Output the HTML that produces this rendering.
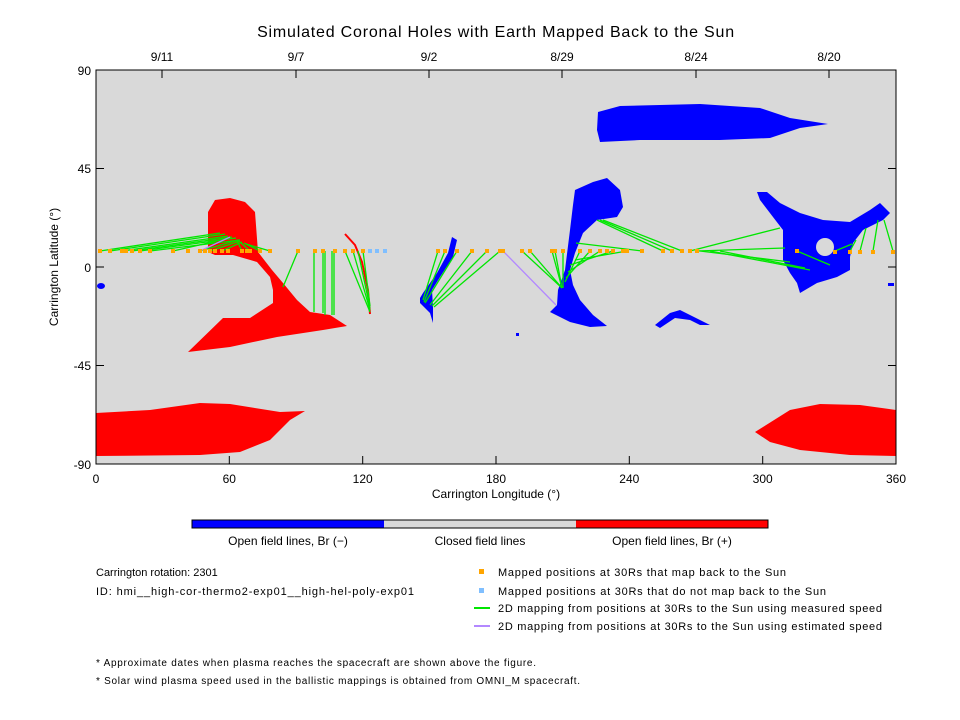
<!DOCTYPE html>
<html><head><meta charset="utf-8"><style>
body{margin:0;background:#fff;}
svg{display:block;font-family:"Liberation Sans",sans-serif;}
</style></head><body>
<svg width="960" height="720" viewBox="0 0 960 720" xmlns="http://www.w3.org/2000/svg">
<rect width="960" height="720" fill="#fff"/>
<text x="496" y="37" font-size="16" text-anchor="middle" fill="#000" letter-spacing="0.8">Simulated Coronal Holes with Earth Mapped Back to the Sun</text>
<rect x="96" y="70" width="800" height="394" fill="#d9d9d9"/>
<!-- red shapes -->
<polygon fill="#f00" points="208,252 208,212 215,200 230,198 245,202 255,212 258,252 272,270 283,283 297,300 310,312 330,315 347,326 323,330 277,337 230,347 188,352 223,318 250,318 273,303 273,290 270,277 257,262 233,255 215,255"/>
<polygon fill="#f00" points="96,413 150,410 200,403 230,404 280,412 305,411 290,420 270,440 240,452 200,455 96,456"/>
<polygon fill="#f00" points="755,432 790,410 820,404 860,405 896,410 896,456 850,455 800,450 770,442"/>
<polyline fill="none" stroke="#f00" stroke-width="2" points="345,234 355,245 362,262 368,290 370,314"/>
<!-- blue shapes -->
<polygon fill="#00f" points="598,112 620,106 700,104 760,108 790,118 828,124 800,128 770,138 720,140 640,140 600,142 597,130"/>
<polygon fill="#00f" points="575,190 593,182 607,178 620,190 623,207 617,217 597,220 583,233 575,253 570,270 573,285 580,300 593,315 607,326 590,327 570,322 550,312 557,305 558,290 565,270 570,230 573,205"/>
<polygon fill="#00f" points="757,192 767,192 780,203 800,213 823,220 850,222 870,210 880,203 890,213 883,220 863,230 853,243 850,257 850,270 837,277 817,283 800,293 797,283 790,273 783,260 783,230 773,217 760,200"/>
<circle cx="825" cy="247" r="9" fill="#d9d9d9"/>
<polygon fill="#00f" points="655,325 670,313 680,310 690,315 700,320 710,325 700,325 690,320 675,318 660,328"/>
<polygon fill="#00f" points="452,237 457,240 453,257 440,277 432,290 433,307 433,323 430,313 420,303 420,298 423,293 437,273 448,253"/>
<ellipse cx="101" cy="286" rx="4" ry="3" fill="#00f"/>
<rect x="888" y="283" width="6" height="3" fill="#00f"/>
<rect x="516" y="333" width="3" height="3" fill="#00f"/>
<!-- green lines -->
<g stroke="#00e600" stroke-width="1.3" fill="none">
<line x1="100" y1="251" x2="220" y2="233"/><line x1="110" y1="251" x2="225" y2="234"/><line x1="122" y1="251" x2="228" y2="236"/><line x1="132" y1="251" x2="232" y2="237"/><line x1="140" y1="251" x2="236" y2="238"/><line x1="150" y1="251" x2="240" y2="240"/><line x1="173" y1="251" x2="230" y2="238"/>
<line x1="200" y1="251" x2="238" y2="240"/><line x1="210" y1="251" x2="240" y2="241"/><line x1="222" y1="251" x2="242" y2="242"/><line x1="242" y1="251" x2="237" y2="241"/><line x1="250" y1="251" x2="240" y2="242"/><line x1="260" y1="251" x2="244" y2="243"/><line x1="270" y1="251" x2="246" y2="244"/>
<line x1="298" y1="251" x2="283" y2="287"/>
<line x1="314" y1="251" x2="314" y2="312"/><line x1="323" y1="251" x2="323" y2="313"/><line x1="325" y1="251" x2="325" y2="315"/><line x1="332" y1="251" x2="332" y2="315"/><line x1="334" y1="251" x2="334" y2="315"/>
<line x1="345" y1="251" x2="370" y2="312"/><line x1="353" y1="251" x2="370" y2="310"/><line x1="358" y1="251" x2="370" y2="308"/><line x1="363" y1="251" x2="370" y2="306"/>
<line x1="438" y1="251" x2="423" y2="300"/><line x1="445" y1="251" x2="424" y2="302"/><line x1="457" y1="251" x2="425" y2="303"/><line x1="472" y1="251" x2="430" y2="305"/><line x1="487" y1="251" x2="432" y2="306"/><line x1="500" y1="251" x2="434" y2="307"/>
<line x1="522" y1="251" x2="562" y2="288"/><line x1="530" y1="251" x2="562" y2="288"/><line x1="552" y1="251" x2="562" y2="288"/><line x1="555" y1="251" x2="562" y2="288"/><line x1="563" y1="251" x2="563" y2="288"/>
<line x1="580" y1="251" x2="565" y2="282"/><line x1="590" y1="251" x2="566" y2="278"/><line x1="600" y1="251" x2="568" y2="272"/><line x1="613" y1="251" x2="570" y2="265"/><line x1="627" y1="251" x2="575" y2="260"/><line x1="642" y1="251" x2="576" y2="243"/>
<line x1="597" y1="220" x2="663" y2="251"/><line x1="600" y1="220" x2="672" y2="251"/><line x1="603" y1="220" x2="682" y2="251"/>
<line x1="690" y1="251" x2="780" y2="228"/><line x1="697" y1="251" x2="785" y2="248"/><line x1="700" y1="251" x2="790" y2="262"/><line x1="710" y1="251" x2="810" y2="270"/><line x1="720" y1="251" x2="805" y2="268"/>
<line x1="797" y1="251" x2="830" y2="265"/><line x1="835" y1="251" x2="852" y2="244"/><line x1="850" y1="251" x2="856" y2="240"/><line x1="860" y1="251" x2="866" y2="228"/><line x1="873" y1="251" x2="878" y2="220"/><line x1="893" y1="251" x2="884" y2="220"/>
</g>
<line x1="503" y1="251" x2="556" y2="305" stroke="#b388ff" stroke-width="1.3"/>
<line x1="200" y1="251" x2="230" y2="237" stroke="#b388ff" stroke-width="1.3"/>
<!-- markers -->
<g fill="#ffa500">
<rect x="98" y="249" width="4" height="4"/><rect x="108" y="249" width="4" height="4"/><rect x="120" y="249" width="4" height="4"/><rect x="124" y="249" width="4" height="4"/><rect x="130" y="249" width="4" height="4"/><rect x="138" y="249" width="4" height="4"/><rect x="148" y="249" width="4" height="4"/><rect x="171" y="249" width="4" height="4"/><rect x="186" y="249" width="4" height="4"/><rect x="198" y="249" width="4" height="4"/><rect x="203" y="249" width="4" height="4"/><rect x="208" y="249" width="4" height="4"/><rect x="213" y="249" width="4" height="4"/><rect x="220" y="249" width="4" height="4"/><rect x="226" y="249" width="4" height="4"/><rect x="240" y="249" width="4" height="4"/><rect x="245" y="249" width="4" height="4"/><rect x="248" y="249" width="4" height="4"/><rect x="258" y="249" width="4" height="4"/><rect x="268" y="249" width="4" height="4"/><rect x="296" y="249" width="4" height="4"/><rect x="313" y="249" width="4" height="4"/><rect x="321" y="249" width="4" height="4"/><rect x="333" y="249" width="4" height="4"/><rect x="343" y="249" width="4" height="4"/><rect x="351" y="249" width="4" height="4"/><rect x="361" y="249" width="4" height="4"/>
<rect x="436" y="249" width="4" height="4"/><rect x="443" y="249" width="4" height="4"/><rect x="455" y="249" width="4" height="4"/><rect x="470" y="249" width="4" height="4"/><rect x="485" y="249" width="4" height="4"/><rect x="498" y="249" width="4" height="4"/><rect x="501" y="249" width="4" height="4"/><rect x="520" y="249" width="4" height="4"/><rect x="528" y="249" width="4" height="4"/><rect x="550" y="249" width="4" height="4"/><rect x="553" y="249" width="4" height="4"/><rect x="561" y="249" width="4" height="4"/><rect x="578" y="249" width="4" height="4"/><rect x="588" y="249" width="4" height="4"/><rect x="598" y="249" width="4" height="4"/><rect x="605" y="249" width="4" height="4"/><rect x="611" y="249" width="4" height="4"/><rect x="621" y="249" width="4" height="4"/><rect x="625" y="249" width="4" height="4"/><rect x="640" y="249" width="4" height="4"/><rect x="661" y="249" width="4" height="4"/><rect x="670" y="249" width="4" height="4"/><rect x="680" y="249" width="4" height="4"/><rect x="688" y="249" width="4" height="4"/><rect x="695" y="249" width="4" height="4"/><rect x="795" y="249" width="4" height="4"/><rect x="833" y="250" width="4" height="4"/><rect x="848" y="250" width="4" height="4"/><rect x="858" y="250" width="4" height="4"/><rect x="871" y="250" width="4" height="4"/><rect x="891" y="250" width="4" height="4"/>
</g>
<g fill="#80bfff"><rect x="368" y="249" width="4" height="4"/><rect x="375" y="249" width="4" height="4"/><rect x="383" y="249" width="4" height="4"/></g>
<!-- frame and ticks -->
<rect x="96" y="70" width="800" height="394" fill="none" stroke="#000" stroke-width="1"/>
<g stroke="#000" stroke-width="1">
<line x1="96" y1="168.5" x2="104" y2="168.5"/><line x1="96" y1="267" x2="104" y2="267"/><line x1="96" y1="365.5" x2="104" y2="365.5"/>
<line x1="888" y1="168.5" x2="896" y2="168.5"/><line x1="888" y1="267" x2="896" y2="267"/><line x1="888" y1="365.5" x2="896" y2="365.5"/>
<line x1="229.3" y1="464" x2="229.3" y2="456"/><line x1="362.7" y1="464" x2="362.7" y2="456"/><line x1="496" y1="464" x2="496" y2="456"/><line x1="629.3" y1="464" x2="629.3" y2="456"/><line x1="762.7" y1="464" x2="762.7" y2="456"/>
<line x1="162" y1="70" x2="162" y2="78"/><line x1="296" y1="70" x2="296" y2="78"/><line x1="429" y1="70" x2="429" y2="78"/><line x1="562" y1="70" x2="562" y2="78"/><line x1="696" y1="70" x2="696" y2="78"/><line x1="829" y1="70" x2="829" y2="78"/>
</g>
<g font-size="12" fill="#000" text-anchor="end">
<text x="91" y="75">90</text><text x="91" y="173">45</text><text x="91" y="272">0</text><text x="91" y="370">-45</text><text x="91" y="469">-90</text>
</g>
<g font-size="12" fill="#000" text-anchor="middle">
<text x="96" y="483">0</text><text x="229.3" y="483">60</text><text x="362.7" y="483">120</text><text x="496" y="483">180</text><text x="629.3" y="483">240</text><text x="762.7" y="483">300</text><text x="896" y="483">360</text>
<text x="162" y="61">9/11</text><text x="296" y="61">9/7</text><text x="429" y="61">9/2</text><text x="562" y="61">8/29</text><text x="696" y="61">8/24</text><text x="829" y="61">8/20</text>
<text x="496" y="498">Carrington Longitude (°)</text>
<text transform="translate(58,267) rotate(-90)">Carrington Latitude (°)</text>
</g>
<!-- colorbar -->
<rect x="192" y="520" width="192" height="8" fill="#00f"/><rect x="384" y="520" width="192" height="8" fill="#d9d9d9"/><rect x="576" y="520" width="192" height="8" fill="#f00"/>
<rect x="192" y="520" width="576" height="8" fill="none" stroke="#000"/>
<g font-size="12" fill="#000" text-anchor="middle">
<text x="288" y="545">Open field lines, Br (−)</text><text x="480" y="545">Closed field lines</text><text x="672" y="545">Open field lines, Br (+)</text>
</g>
<g font-size="11" fill="#000">
<text x="96" y="576">Carrington rotation: 2301</text>
<text x="96" y="595" textLength="318">ID: hmi__high-cor-thermo2-exp01__high-hel-poly-exp01</text>
<text x="498" y="576" textLength="288">Mapped positions at 30Rs that map back to the Sun</text>
<text x="498" y="595" textLength="328">Mapped positions at 30Rs that do not map back to the Sun</text>
<text x="498" y="612" textLength="384">2D mapping from positions at 30Rs to the Sun using measured speed</text>
<text x="498" y="630" textLength="384">2D mapping from positions at 30Rs to the Sun using estimated speed</text>
<text x="96" y="666" font-size="10" textLength="440">* Approximate dates when plasma reaches the spacecraft are shown above the figure.</text>
<text x="96" y="684" font-size="10" textLength="484">* Solar wind plasma speed used in the ballistic mappings is obtained from OMNI_M spacecraft.</text>
</g>
<rect x="479" y="569" width="5" height="5" fill="#ffa500"/>
<rect x="479" y="588" width="5" height="5" fill="#80bfff"/>
<line x1="474" y1="608" x2="490" y2="608" stroke="#00e600" stroke-width="2"/>
<line x1="474" y1="626" x2="490" y2="626" stroke="#b388ff" stroke-width="2"/>
</svg>
</body></html>
